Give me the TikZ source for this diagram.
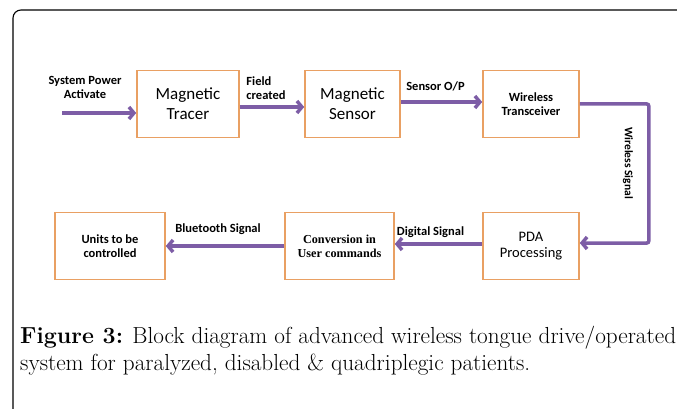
\documentclass[tikz,border=0pt]{standalone}
\usepackage{fontspec}
\newfontfamily\carlito{Carlito}
\newfontfamily\timesb{Liberation Serif}
\usepackage{tikz}
\usetikzlibrary{arrows.meta,positioning}
\definecolor{flow}{HTML}{7D5DA6}
\definecolor{rim}{HTML}{E9A063}

\begin{document}
\begin{tikzpicture}[
    x=1pt,y=-1pt,
    box/.style={draw=rim,line width=1.6pt,fill=white,minimum height=67pt,align=center,inner sep=2pt},
    bigbox/.style={box,font=\carlito\fontsize{17}{20}\selectfont},
    smallbox/.style={box,font=\carlito\bfseries\fontsize{12.5}{14}\selectfont},
    lbl/.style={font=\carlito\bfseries\fontsize{12.5}{14}\selectfont,align=center,inner sep=0pt},
    arrow/.style={flow,line width=3.5pt,-{Straight Barb[length=5pt,width=12pt]}}
  ]
    \useasboundingbox (0,0) rectangle (677,409);
    \clip (0,0) rectangle (677,409);
    \draw[line width=1.1pt,rounded corners=8pt] (13,440) -- (13,10) -- (700,10);
    % top row
    \node[bigbox,minimum width=102pt] (tracer) at (188,104) {Magnetic\\Tracer};
    \node[bigbox,minimum width=95pt] (sensor) at (352.5,104) {Magnetic\\Sensor};
    \node[smallbox,minimum width=96pt] (wireless) at (531,104) {Wireless\\Transceiver};
    % bottom row
    \node[smallbox,minimum width=110pt] (units) at (110,246) {Units to be\\controlled};
    \node[box,minimum width=109pt,font=\timesb\bfseries\fontsize{12.2}{14}\selectfont] (convert) at (339.5,246) {Conversion in\\User commands};
    \node[box,minimum width=96pt,font=\carlito\fontsize{14.5}{16}\selectfont] (pda) at (531,246) {PDA\\Processing};
    % labels
    \node[lbl] (powerlbl) at (85,87) {System Power\\Activate};
    \node[lbl,align=left] (fieldlbl) at (266,88) {Field\\created};
    \node[lbl] (outlbl) at (435.5,86) {Sensor O/P};
    \node[lbl,rotate=-90,font=\carlito\bfseries\fontsize{11.5}{13}\selectfont] (wifilbl) at (628,163) {Wireless Signal};
    \node[lbl] (digitallbl) at (430.5,232) {Digital Signal};
    \node[lbl] (btlbl) at (218,229) {Bluetooth Signal};
    \coordinate (power) at (62,113);
    % connectors
    \draw[arrow] (power) -- (power -| tracer.west);
    \draw[arrow] ([yshift=-3pt]tracer.east) -- ([yshift=-3pt]sensor.west);
    \draw[arrow] ([yshift=2pt]sensor.east) -- ([yshift=2pt]wireless.west);
    \draw[arrow,rounded corners=2pt] (wireless.east) -- ++(69,0) |- ([yshift=3pt]pda.east);
    \draw[arrow] ([yshift=2pt]pda.west) -- ([yshift=2pt]convert.west -| convert.east);
    \draw[arrow] (convert.west) -- (units.east);
    % caption
    \node[anchor=west,align=left,inner sep=0pt,font=\fontsize{23.2}{27}\selectfont] (caption) at (20,351)
      {\textbf{Figure 3:} Block diagram of advanced wireless tongue drive/operated\\system for paralyzed, disabled \& quadriplegic patients.};
  \end{tikzpicture}
\end{document}
